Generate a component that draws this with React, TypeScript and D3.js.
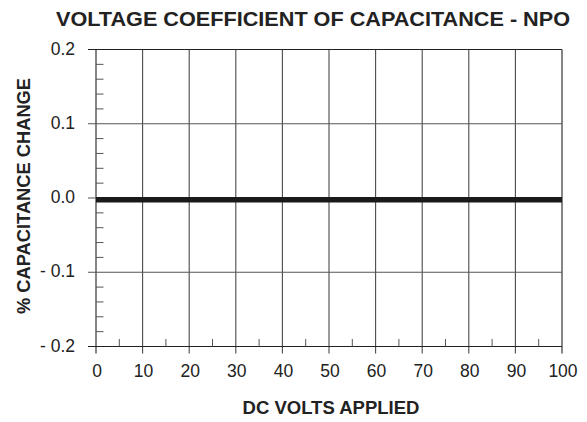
import React, { useEffect, useRef } from 'react'
import * as d3 from 'd3'

const volts = [0, 10, 20, 30, 40, 50, 60, 70, 80, 90, 100]
const capChange = [-0.0022, -0.0022, -0.0022, -0.0022, -0.0022, -0.0022, -0.0022, -0.0022, -0.0022, -0.0022, -0.0022]
const yTicks = [-0.2, -0.1, 0, 0.1, 0.2]
const yTickLabels = ['- 0.2', '- 0.1', '0.0', '0.1', '0.2']
const yMinor = [-0.18, -0.16, -0.14, -0.12, -0.08, -0.06, -0.04, -0.02, 0.02, 0.04, 0.06, 0.08, 0.12, 0.14, 0.16, 0.18]
const xMinor = [5, 15, 25, 35, 45, 55, 65, 75, 85, 95]

const W = 587
const H = 422
const margin = { top: 49.5, right: 25, bottom: 75.5, left: 96 }

const App = () => {
    const svgRef = useRef<SVGSVGElement>(null)

    useEffect(() => {
        const svg = d3.select(svgRef.current)
        svg.selectAll('*').remove()
        const font = 'Liberation Sans, Arial, sans-serif'
        const iw = W - margin.left - margin.right
        const ih = H - margin.top - margin.bottom

        const x = d3.scaleLinear().domain([0, 100]).range([0, iw])
        const y = d3.scaleLinear().domain([-0.2, 0.2]).range([ih, 0])

        const g = svg.append('g').attr('transform', `translate(${margin.left},${margin.top})`)

        // vertical grid + ticks below the axis
        g.selectAll('.vgrid')
            .data(volts)
            .join('line')
            .attr('x1', d => x(d)).attr('x2', d => x(d))
            .attr('y1', 0).attr('y2', ih + 7)
            .attr('stroke', d => (d === 0 || d === 100 ? '#222' : '#4a4a4a'))
            .attr('stroke-width', 1.1)

        // horizontal grid + ticks left of the axis
        g.selectAll('.hgrid')
            .data(yTicks)
            .join('line')
            .attr('x1', -8).attr('x2', iw)
            .attr('y1', d => y(d)).attr('y2', d => y(d))
            .attr('stroke', d => (Math.abs(d) === 0.2 ? '#222' : '#555'))
            .attr('stroke-width', 1.1)

        // minor ticks
        g.selectAll('.yminor')
            .data(yMinor)
            .join('line')
            .attr('x1', 0).attr('x2', 7.5)
            .attr('y1', d => y(d)).attr('y2', d => y(d))
            .attr('stroke', '#555').attr('stroke-width', 1)

        g.selectAll('.xminor')
            .data(xMinor)
            .join('line')
            .attr('x1', d => x(d)).attr('x2', d => x(d))
            .attr('y1', ih).attr('y2', ih - 7.5)
            .attr('stroke', '#555').attr('stroke-width', 1)

        // data line
        const line = d3.line<number>()
            .x((_, i) => x(volts[i]))
            .y(d => y(d))
        g.append('path')
            .datum(capChange)
            .attr('d', line)
            .attr('fill', 'none')
            .attr('stroke', '#1a1a1a')
            .attr('stroke-width', 5.5)

        // tick labels
        g.selectAll('.ylab')
            .data(yTicks)
            .join('text')
            .attr('x', -21)
            .attr('y', d => y(d) - 1)
            .attr('dy', '0.35em')
            .attr('text-anchor', 'end')
            .style('font-family', font)
            .style('font-size', '17.5px')
            .attr('fill', '#222')
            .text((_, i) => yTickLabels[i])

        g.selectAll('.xlab')
            .data(volts)
            .join('text')
            .attr('x', d => x(d) + 1)
            .attr('y', ih + 30)
            .attr('text-anchor', 'middle')
            .style('font-family', font)
            .style('font-size', '17.5px')
            .attr('fill', '#222')
            .text(d => String(d))

        // titles
        svg.append('text')
            .attr('x', 313).attr('y', 26)
            .attr('text-anchor', 'middle')
            .attr('textLength', 514)
            .attr('lengthAdjust', 'spacingAndGlyphs')
            .style('font-family', font)
            .style('font-size', '21px')
            .style('font-weight', 'bold')
            .attr('fill', '#222')
            .text('VOLTAGE COEFFICIENT OF CAPACITANCE - NPO')

        svg.append('text')
            .attr('x', 331).attr('y', 414)
            .attr('text-anchor', 'middle')
            .style('font-family', font)
            .style('font-size', '18.5px')
            .style('font-weight', 'bold')
            .attr('fill', '#222')
            .text('DC VOLTS APPLIED')

        svg.append('text')
            .attr('transform', `translate(30,196) rotate(-90)`)
            .attr('text-anchor', 'middle')
            .attr('textLength', 236)
            .attr('lengthAdjust', 'spacingAndGlyphs')
            .style('font-family', font)
            .style('font-size', '18.5px')
            .style('font-weight', 'bold')
            .attr('fill', '#222')
            .text('% CAPACITANCE CHANGE')
    }, [])

    return (
        <svg ref={svgRef} width={W} height={H} style={{ display: 'block', position: 'absolute', left: 0, top: 0, background: '#fff' }} />
    )
}

export default App
